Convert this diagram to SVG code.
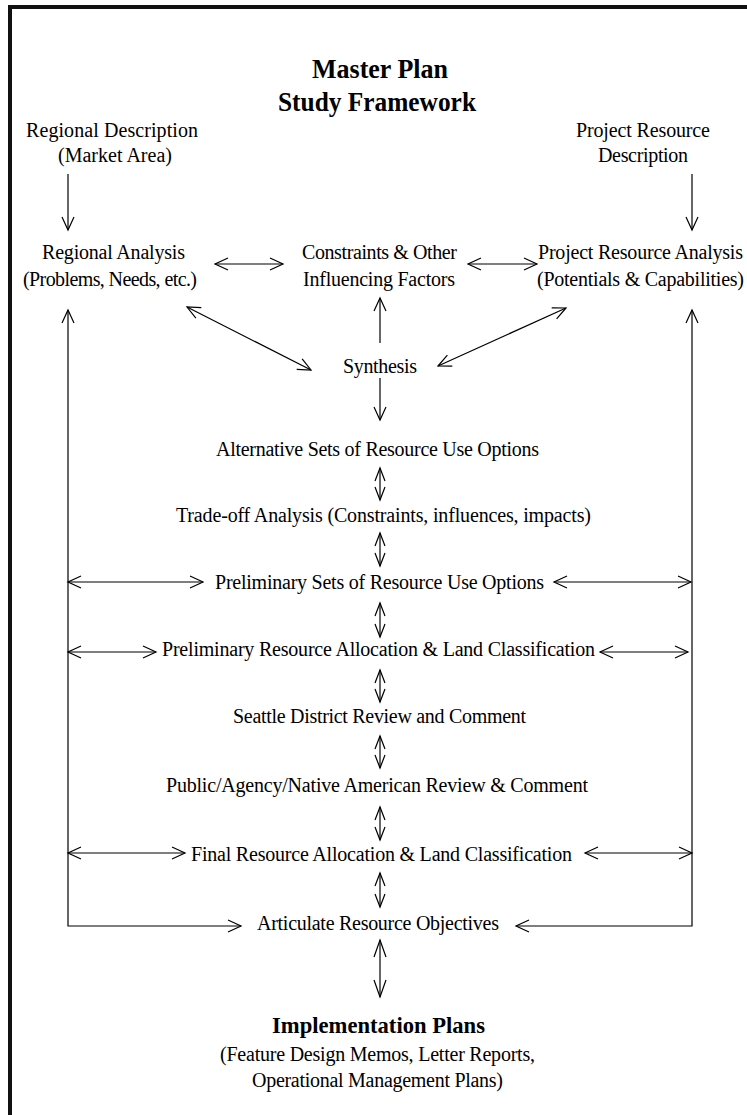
<svg xmlns="http://www.w3.org/2000/svg" width="747" height="1115" viewBox="0 0 747 1115">
<style>
  .t { font-family: "Liberation Serif", "Times New Roman", serif; font-size: 20px; fill: #000; }
  .b { font-family: "Liberation Serif", "Times New Roman", serif; font-weight: bold; fill: #000; }
  .c { fill: none; stroke: #000; stroke-width: 1.2; }
</style>
<defs>
  <marker id="h" markerUnits="userSpaceOnUse" viewBox="-16 -8 17 16" refX="0" refY="0" markerWidth="17" markerHeight="16" orient="auto-start-reverse" overflow="visible">
    <path d="M-13,-6 L0,0 L-13,6" fill="none" stroke="#000" stroke-width="1.2"/>
  </marker>
  <marker id="s" markerUnits="userSpaceOnUse" viewBox="-16 -8 17 16" refX="0" refY="0" markerWidth="17" markerHeight="16" orient="auto-start-reverse" overflow="visible">
    <path d="M-13,-5 L0,0 L-13,5" fill="none" stroke="#000" stroke-width="1.2"/>
  </marker>
  <marker id="L" markerUnits="userSpaceOnUse" viewBox="-20 -8 21 16" refX="0" refY="0" markerWidth="21" markerHeight="16" orient="auto-start-reverse" overflow="visible">
    <path d="M-17,-6 L0,0 L-17,6" fill="none" stroke="#000" stroke-width="1.2"/>
  </marker>
</defs>
<rect width="747" height="1115" fill="#fff"/>
<path d="M10,1115 V7 H747" fill="none" stroke="#111" stroke-width="4"/>

<g id="title">
  <text class="b" x="312" y="78" font-size="27" textLength="136" lengthAdjust="spacingAndGlyphs">Master Plan</text>
  <text class="b" x="278" y="111" font-size="27" textLength="198" lengthAdjust="spacingAndGlyphs">Study Framework</text>
</g>
<g id="regional-description">
  <text class="t" x="26" y="137" textLength="172">Regional Description</text>
  <text class="t" x="58" y="162" textLength="114">(Market Area)</text>
</g>
<g id="project-resource-description">
  <text class="t" x="576" y="137" textLength="134">Project Resource</text>
  <text class="t" x="598" y="162" textLength="90">Description</text>
</g>
<g id="regional-analysis">
  <text class="t" x="42" y="259" textLength="143">Regional Analysis</text>
  <text class="t" x="23" y="286" textLength="174">(Problems, Needs, etc.)</text>
</g>
<g id="constraints">
  <text class="t" x="302" y="259" textLength="155">Constraints &amp; Other</text>
  <text class="t" x="303" y="286" textLength="152">Influencing Factors</text>
</g>
<g id="project-resource-analysis">
  <text class="t" x="538" y="259" textLength="205">Project Resource Analysis</text>
  <text class="t" x="537" y="286" textLength="207">(Potentials &amp; Capabilities)</text>
</g>
<g id="synthesis">
  <text class="t" x="343" y="373" textLength="74">Synthesis</text>
</g>
<g id="alternative-sets">
  <text class="t" x="216" y="456" textLength="323">Alternative Sets of Resource Use Options</text>
</g>
<g id="trade-off">
  <text class="t" x="176" y="522" textLength="415">Trade-off Analysis (Constraints, influences, impacts)</text>
</g>
<g id="preliminary-sets">
  <text class="t" x="215" y="589" textLength="329">Preliminary Sets of Resource Use Options</text>
</g>
<g id="preliminary-allocation">
  <text class="t" x="162" y="656" textLength="433">Preliminary Resource Allocation &amp; Land Classification</text>
</g>
<g id="seattle-review">
  <text class="t" x="233" y="723" textLength="293">Seattle District Review and Comment</text>
</g>
<g id="public-review">
  <text class="t" x="166" y="792" textLength="422">Public/Agency/Native American Review &amp; Comment</text>
</g>
<g id="final-allocation">
  <text class="t" x="191" y="861" textLength="381">Final Resource Allocation &amp; Land Classification</text>
</g>
<g id="articulate">
  <text class="t" x="257" y="930" textLength="242">Articulate Resource Objectives</text>
</g>
<g id="implementation">
  <text class="b" x="272" y="1033" font-size="23" textLength="213" lengthAdjust="spacingAndGlyphs">Implementation Plans</text>
  <text class="t" x="220" y="1061" textLength="315">(Feature Design Memos, Letter Reports,</text>
  <text class="t" x="252" y="1087" textLength="251">Operational Management Plans)</text>
</g>

<g id="connectors">
  <path class="c" d="M68,174 V230" marker-end="url(#h)"/>
  <path class="c" d="M692,174 V230" marker-end="url(#h)"/>
  <path class="c" d="M215,264 H283" marker-start="url(#h)" marker-end="url(#h)"/>
  <path class="c" d="M468,264 H537" marker-start="url(#h)" marker-end="url(#h)"/>
  <path class="c" d="M380,343 V298" marker-end="url(#h)"/>
  <path class="c" d="M187,307 L311,370" marker-start="url(#h)" marker-end="url(#h)"/>
  <path class="c" d="M566,308 L438,366" marker-start="url(#h)" marker-end="url(#h)"/>
  <path class="c" d="M380,378 V420" marker-end="url(#h)"/>
  <path class="c" d="M380,468 V500" marker-start="url(#s)" marker-end="url(#s)"/>
  <path class="c" d="M380,533 V566" marker-start="url(#s)" marker-end="url(#s)"/>
  <path class="c" d="M380,603 V637" marker-start="url(#s)" marker-end="url(#s)"/>
  <path class="c" d="M380,670 V702" marker-start="url(#s)" marker-end="url(#s)"/>
  <path class="c" d="M380,736 V768" marker-start="url(#s)" marker-end="url(#s)"/>
  <path class="c" d="M380,807 V840" marker-start="url(#s)" marker-end="url(#s)"/>
  <path class="c" d="M380,873 V907" marker-start="url(#s)" marker-end="url(#s)"/>
  <path class="c" d="M380,940 V997" marker-start="url(#L)" marker-end="url(#L)"/>
  <path class="c" d="M68,310 V926 H241" marker-start="url(#h)" marker-end="url(#h)"/>
  <path class="c" d="M692,310 V926 H516" marker-start="url(#h)" marker-end="url(#h)"/>
  <path class="c" d="M68,582 H203" marker-start="url(#h)" marker-end="url(#h)"/>
  <path class="c" d="M554,582 H691" marker-start="url(#h)" marker-end="url(#h)"/>
  <path class="c" d="M68,652 H156" marker-start="url(#h)" marker-end="url(#h)"/>
  <path class="c" d="M600,652 H688" marker-start="url(#h)" marker-end="url(#h)"/>
  <path class="c" d="M68,853 H185" marker-start="url(#h)" marker-end="url(#h)"/>
  <path class="c" d="M585,853 H692" marker-start="url(#h)" marker-end="url(#h)"/>
</g>
</svg>
